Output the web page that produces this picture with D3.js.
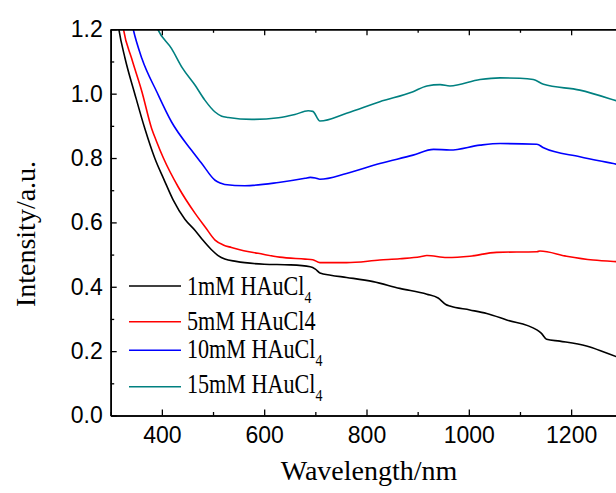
<!DOCTYPE html>
<html>
<head>
<meta charset="utf-8">
<script src="https://cdn.jsdelivr.net/npm/d3@7"></script>
<style>
  body { margin: 0; background: #fff; }
  .tick text { font-family: "Liberation Sans", Arial, sans-serif; font-size: 23px; fill: #000; }
  .title { font-family: "Liberation Serif", "Times New Roman", serif; font-size: 28px; fill: #000; }
  .legend text { font-family: "Liberation Serif", "Times New Roman", serif; font-size: 27px; fill: #000; }
</style>
</head>
<body>
<div id="chart"></div>
<script>
// Spectra (wavelength in nm, intensity in a.u.)
const wl1mM  = [310, 316, 328, 347, 367, 386, 405, 422, 445, 465, 480, 497, 510, 523, 545, 562, 600, 650, 690, 700, 709, 730, 761, 813, 865, 918, 940, 955, 963, 1002, 1035, 1074, 1133, 1142, 1152, 1178, 1230, 1260, 1288, 1300];
const int1mM = [1.27, 1.20, 1.11, 1.00, 0.89, 0.80, 0.73, 0.67, 0.61, 0.575, 0.545, 0.515, 0.497, 0.486, 0.479, 0.475, 0.470, 0.468, 0.462, 0.455, 0.443, 0.436, 0.429, 0.416, 0.395, 0.377, 0.365, 0.345, 0.340, 0.328, 0.317, 0.297, 0.266, 0.255, 0.237, 0.231, 0.216, 0.200, 0.183, 0.175];

const wl5mM  = [318, 325, 341, 361, 380, 390, 403, 432, 465, 485, 504, 520, 536, 560, 588, 630, 680, 695, 709, 761, 826, 865, 905, 918, 957, 1002, 1054, 1133, 1139, 1191, 1243, 1288, 1300];
const int5mM = [1.28, 1.20, 1.109, 1.006, 0.892, 0.85, 0.80, 0.71, 0.628, 0.585, 0.545, 0.530, 0.522, 0.512, 0.504, 0.492, 0.486, 0.484, 0.475, 0.475, 0.483, 0.487, 0.493, 0.497, 0.491, 0.495, 0.507, 0.509, 0.511, 0.495, 0.483, 0.478, 0.477];

const wl10mM  = [335, 344, 361, 390, 419, 458, 478, 504, 515, 523, 562, 628, 680, 690, 700, 709, 761, 826, 891, 931, 963, 1022, 1061, 1133, 1146, 1217, 1288, 1300];
const int10mM = [1.27, 1.20, 1.109, 1.006, 0.912, 0.824, 0.783, 0.731, 0.722, 0.718, 0.714, 0.724, 0.737, 0.740, 0.738, 0.734, 0.752, 0.783, 0.809, 0.827, 0.825, 0.840, 0.845, 0.843, 0.832, 0.804, 0.781, 0.777];

const wl15mM  = [380, 392, 419, 440, 465, 484, 504, 517, 530, 576, 628, 660, 686, 695, 709, 761, 826, 891, 918, 944, 963, 1022, 1061, 1100, 1126, 1146, 1217, 1288, 1300];
const int15mM = [1.25, 1.20, 1.140, 1.08, 1.026, 0.980, 0.943, 0.930, 0.926, 0.920, 0.925, 0.935, 0.947, 0.945, 0.915, 0.939, 0.975, 1.006, 1.024, 1.028, 1.024, 1.044, 1.049, 1.048, 1.044, 1.029, 1.011, 0.978, 0.972];

const seriesNames  = ["1mM HAuCl", "5mM HAuCl4", "10mM HAuCl", "15mM HAuCl"];
const seriesSubs   = ["4", "", "4", "4"];
const seriesColors = ["#000000", "#ff0000", "#0000ff", "#008080"];

const xTicks = [400, 600, 800, 1000, 1200];
const xMinor = [300, 500, 700, 900, 1100, 1300];
const yTicks = [0.0, 0.2, 0.4, 0.6, 0.8, 1.0, 1.2];
const yMinor = [0.1, 0.3, 0.5, 0.7, 0.9, 1.1];

const W = 616, H = 493;
const margin = {top: 29.3, left: 110.7};
const width = 511.6, height = 386.2;

const svg = d3.select("#chart").append("svg")
    .attr("width", W).attr("height", H);

const g = svg.append("g")
    .attr("transform", `translate(${margin.left}, ${margin.top})`);

const x = d3.scaleLinear().domain([300, 1300]).range([0, width]);
const y = d3.scaleLinear().domain([0, 1.2]).range([height, 0]);

// clip the curves to the frame
svg.append("defs").append("clipPath").attr("id", "plot-clip")
    .append("rect").attr("width", width).attr("height", height);

const series = [
    {wl: wl1mM, val: int1mM},
    {wl: wl5mM, val: int5mM},
    {wl: wl10mM, val: int10mM},
    {wl: wl15mM, val: int15mM}
];

const line = d3.line()
    .x(d => x(d[0]))
    .y(d => y(d[1]))
    .curve(d3.curveMonotoneX);

const plot = g.append("g").attr("clip-path", "url(#plot-clip)");
series.forEach((s, i) => {
    plot.append("path")
        .datum(s.wl.map((w, j) => [w, s.val[j]]))
        .attr("fill", "none")
        .attr("stroke", seriesColors[i])
        .attr("stroke-width", 1.6)
        .attr("d", line);
});

// Axes, ticks pointing inward
function styleAxis(sel) {
    sel.select(".domain").attr("stroke", "#000").attr("stroke-width", 1.6);
    sel.selectAll(".tick line").attr("stroke", "#000").attr("stroke-width", 1.3);
}

g.append("g").attr("transform", `translate(0, ${height})`)
    .call(d3.axisBottom(x).tickValues(xTicks).tickSize(-6).tickSizeOuter(0).tickPadding(11).tickFormat(d3.format("d")))
    .call(styleAxis);
g.append("g").attr("transform", `translate(0, ${height})`)
    .call(d3.axisBottom(x).tickValues(xMinor).tickSize(-3.5).tickSizeOuter(0).tickFormat(""))
    .call(styleAxis);

g.append("g")
    .call(d3.axisTop(x).tickValues(xTicks).tickSize(-6).tickSizeOuter(0).tickFormat(""))
    .call(styleAxis);
g.append("g")
    .call(d3.axisTop(x).tickValues(xMinor).tickSize(-3.5).tickSizeOuter(0).tickFormat(""))
    .call(styleAxis);

g.append("g")
    .call(d3.axisLeft(y).tickValues(yTicks).tickSize(-6).tickSizeOuter(0).tickPadding(8).tickFormat(d3.format(".1f")))
    .call(styleAxis);
g.append("g")
    .call(d3.axisLeft(y).tickValues(yMinor).tickSize(-3.5).tickSizeOuter(0).tickFormat(""))
    .call(styleAxis);

g.append("g").attr("transform", `translate(${width}, 0)`)
    .call(d3.axisRight(y).tickValues(yTicks).tickSize(-6).tickSizeOuter(0).tickFormat(""))
    .call(styleAxis);

// Axis titles
svg.append("text")
    .attr("class", "title")
    .attr("x", 369).attr("y", 480)
    .attr("text-anchor", "middle")
    .text("Wavelength/nm");

svg.append("text")
    .attr("class", "title")
    .attr("transform", "translate(35, 234) rotate(-90)")
    .attr("text-anchor", "middle")
    .text("Intensity/a.u.");

// Legend
const legendLineY = [286, 321.7, 350.3, 386.7];
const legendTextY = [295, 330, 358, 393];

const legend = svg.append("g").attr("class", "legend");
seriesNames.forEach((name, i) => {
    legend.append("line")
        .attr("x1", 129).attr("x2", 181)
        .attr("y1", legendLineY[i]).attr("y2", legendLineY[i])
        .attr("stroke", seriesColors[i])
        .attr("stroke-width", 1.6);
    const t = legend.append("text")
        .attr("transform", `translate(187, ${legendTextY[i]}) scale(0.82, 1)`);
    t.append("tspan").text(name);
    if (seriesSubs[i]) {
        t.append("tspan")
            .attr("dy", 8)
            .attr("font-size", "17px")
            .text(seriesSubs[i]);
    }
});
</script>
</body>
</html>
